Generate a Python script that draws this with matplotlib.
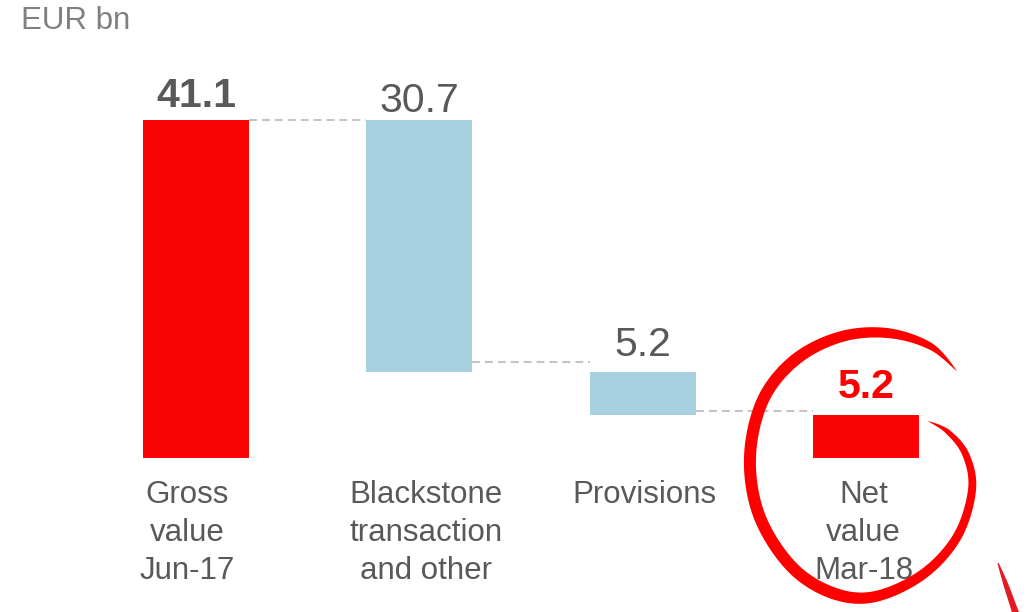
import numpy as np
import matplotlib
matplotlib.use("Agg")
import matplotlib.pyplot as plt
from matplotlib.patches import Polygon

# ---------------- data ----------------
categories = ["Gross\nvalue\nJun-17", "Blackstone\ntransaction\nand other",
              "Provisions", "Net\nvalue\nMar-18"]
values = [41.1, -30.7, -5.2, 5.2]
kinds = ["total", "delta", "delta", "total"]
value_labels = ["41.1", "30.7", "5.2", "5.2"]
connector_levels = [41.1, 11.7, 5.7]
unit_label = "EUR bn"

# ---------------- style ----------------
RED = "#fa0505"
BLUE = "#a7d0e0"
TXT = "#595959"
bar_colors = [RED, BLUE, BLUE, RED]
label_bold = [True, False, False, True]
label_colors = [TXT, TXT, TXT, "#ff0000"]
label_offsets_pt = [9.4, 5.8, 11.5, 12.2]
cat_dx_px = [-9, 7, 1, -3]

W, H = 1033, 612
fig = plt.figure(figsize=(W / 100, H / 100), dpi=100)
plt.rcParams["font.family"] = ["Liberation Sans", "DejaVu Sans"]

ax = fig.add_axes([0, 0, 1, 1])
px_x = 223.5          # pixels per category step
px_y = 338 / 41.1     # pixels per unit
x0_px, y0_px = 196, 458
ax.set_xlim(-x0_px / px_x, (W - x0_px) / px_x)
ax.set_ylim(-(H - y0_px) / px_y, y0_px / px_y)
ax.axis("off")

# waterfall geometry
bottoms, heights = [], []
running = 0.0
for v, k in zip(values, kinds):
    if k == "total":
        bottoms.append(0.0)
        heights.append(v)
        running = v
    else:
        new = running + v
        bottoms.append(min(new, running))
        heights.append(abs(v))
        running = new

xs = np.arange(len(categories))
bw = 106 / px_x
ax.bar(xs, heights, bottom=bottoms, width=bw, color=bar_colors, zorder=2)

# connectors
for i, lvl in enumerate(connector_levels):
    ax.plot([xs[i] + bw / 2, xs[i + 1] - bw / 2], [lvl, lvl],
            color="#c4c4c4", lw=1.5, dashes=(3.8, 2.4), zorder=1)

# value labels
for i in range(len(xs)):
    top = bottoms[i] + heights[i]
    ax.annotate(value_labels[i], (xs[i], top), xytext=(0, label_offsets_pt[i]),
                textcoords="offset points", ha="center", va="baseline",
                fontsize=29.5, color=label_colors[i],
                fontweight="bold" if label_bold[i] else "normal")

# category labels
for i, c in enumerate(categories):
    ax.annotate(c, (xs[i], 0), xytext=(cat_dx_px[i] * 0.72, -15.5),
                textcoords="offset points", ha="center", va="top",
                fontsize=22.5, color=TXT, linespacing=1.35)

fig.text(21 / W, 1 - 6 / H, unit_label, ha="left", va="top",
         fontsize=22.5, color="#808080")

# ---------------- hand-drawn highlight ----------------
ov = fig.add_axes([0, 0, 1, 1], zorder=5)
ov.set_xlim(0, W)
ov.set_ylim(H, 0)
ov.axis("off")
ov.patch.set_alpha(0)


def catmull(P, n=24):
    P = np.asarray(P, float)
    P = np.vstack([P[0], P, P[-1]])
    out = []
    for i in range(len(P) - 3):
        p0, p1, p2, p3 = P[i], P[i + 1], P[i + 2], P[i + 3]
        for t in np.linspace(0, 1, n, endpoint=False):
            t2, t3 = t * t, t * t * t
            out.append(0.5 * ((2 * p1) + (-p0 + p2) * t +
                              (2 * p0 - 5 * p1 + 4 * p2 - p3) * t2 +
                              (-p0 + 3 * p1 - 3 * p2 + p3) * t3))
    out.append(P[-2])
    return np.array(out)


def stroke(pts, widths, color):
    c = catmull(pts)
    wk = np.interp(np.linspace(0, len(widths) - 1, len(c)),
                   np.arange(len(widths)), widths)
    d = np.gradient(c, axis=0)
    nrm = np.stack([-d[:, 1], d[:, 0]], axis=1)
    nrm /= np.linalg.norm(nrm, axis=1)[:, None] + 1e-9
    left = c + nrm * wk[:, None] / 2
    right = c - nrm * wk[:, None] / 2
    poly = np.vstack([left, right[::-1]])
    ov.add_patch(Polygon(poly, closed=True, facecolor=color, edgecolor="none"))


circle_pts = [(957, 371), (930, 346), (887, 333), (840, 337), (795, 360),
              (763, 400), (750, 457), (759, 515), (790, 565), (830, 592),
              (873, 597), (922, 575), (957, 537), (972, 490), (966, 455),
              (948, 432), (928, 421)]
circle_w = [0, 7, 10, 11, 12, 12, 12, 12, 12, 12, 11, 10, 9, 8, 7, 5, 0]
stroke(circle_pts, circle_w, "#ff0000")

stroke([(998, 563), (1006, 585), (1016, 614)], [1, 5, 7], "#e31b23")

fig.savefig("out.png", dpi=100)
